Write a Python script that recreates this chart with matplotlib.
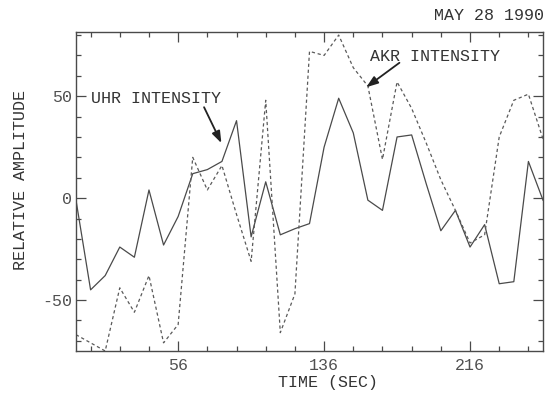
import matplotlib
matplotlib.use('Agg')
import matplotlib.pyplot as plt
import numpy as np
from matplotlib.ticker import FixedLocator, NullFormatter

plt.rcParams['axes.unicode_minus'] = False

# time axis, one sample every 8 s
time_sec = np.arange(0, 257, 8)

# UHR intensity (solid)
uhr = [-1, -45, -38, -24, -29, 4, -23, -9, 12, 14, 18, 38, -19, 8, -18, -15, -12.5,
       25, 49, 32, -1, -6, 30, 31, 7, -16, -6, -24, -13, -42, -41, 18, -1]

# AKR intensity (dashed)
akr = [-67, -71, -75, -44, -56, -38, -71, -62, 20, 4, 16, -8, -31, 48, -66, -47, 72,
       70, 80, 64, 55, 19, 57, 44, 27, 9, -6, -22, -18, 30, 48, 51, 29]

xmajor = [56, 136, 216]
xminor = list(range(8, 256, 16))
ymajor = [-50, 0, 50]
yminor = list(range(-70, 81, 10))

ink = '#4a4a4a'
font = ['Liberation Mono', 'DejaVu Sans Mono']
fs = 12

fig = plt.figure(figsize=(5.45, 3.93), dpi=100)
ax = fig.add_axes([76/545, 1 - 351/393, (543 - 76)/545, (351 - 32)/393])

ax.plot(time_sec, uhr, color=ink, lw=0.9)
ax.plot(time_sec, akr, color='#5a5a5a', lw=0.9, linestyle=(0, (2.6, 2.2)))

ax.set_xlim(0, 256)
ax.set_ylim(-75, 81.5)

ax.xaxis.set_major_locator(FixedLocator(xmajor))
ax.xaxis.set_minor_locator(FixedLocator(xminor))
ax.yaxis.set_major_locator(FixedLocator(ymajor))
ax.yaxis.set_minor_locator(FixedLocator(yminor))
ax.xaxis.set_minor_formatter(NullFormatter())
ax.yaxis.set_minor_formatter(NullFormatter())

ax.tick_params(which='both', direction='in', top=True, right=True, color=ink,
               labelcolor='#505050', labelsize=fs, width=0.9)
ax.tick_params(which='major', length=7)
ax.tick_params(which='minor', length=3.5)
ax.tick_params(axis='x', pad=5)
ax.tick_params(axis='y', pad=3)
for lab in ax.get_xticklabels() + ax.get_yticklabels():
    lab.set_family(font)

for sp in ax.spines.values():
    sp.set_color(ink)
    sp.set_linewidth(1.0)

ax.text(8.0, 48.8, 'UHR INTENSITY', family=font, fontsize=fs, color='#333333',
        ha='left', va='center')
ax.text(161, 69.6, 'AKR INTENSITY', family=font, fontsize=fs, color='#333333',
        ha='left', va='center')

arrow = dict(arrowstyle='-|>,head_length=0.7,head_width=0.25', color='#222222', lw=1.3,
             shrinkA=0, shrinkB=0)
ax.annotate('', xy=(79.7, 27), xytext=(70.2, 44.6), arrowprops=arrow)
ax.annotate('', xy=(159.1, 54.4), xytext=(177.3, 66.4), arrowprops=arrow)

fig.text(544/545, 1 - 15.5/393, 'MAY 28 1990', family=font, fontsize=fs, color='#333333',
         ha='right', va='center')
fig.text(21/545, 1 - 180/393, 'RELATIVE AMPLITUDE', family=font, fontsize=fs,
         color='#333333', rotation=90, ha='center', va='center')
fig.text(327.5/545, 1 - 382/393, 'TIME (SEC)', family=font, fontsize=fs, color='#333333',
         ha='center', va='center')

fig.savefig('out.png', dpi=100, facecolor='white')
